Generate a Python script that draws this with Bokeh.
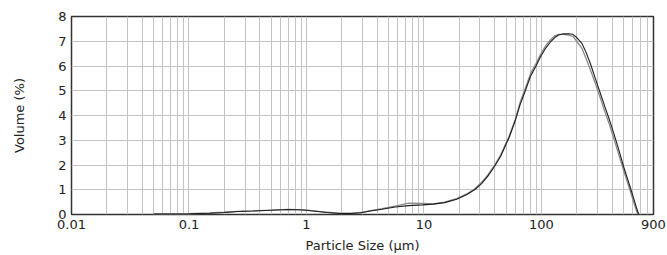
from bokeh.plotting import figure
from bokeh.models import Range1d, FixedTicker, CustomJSTickFormatter
from bokeh.embed import file_html
from bokeh.resources import INLINE

# Particle size (µm)
sizes = [0.05, 0.1, 0.15, 0.2, 0.26, 0.35, 0.5, 0.7, 0.85, 1.0, 1.2, 1.5, 1.9, 2.4,
         2.9, 3.5, 4.4, 5.7, 7.4, 9.7, 12, 15, 19, 23, 27, 31, 35, 40, 45, 53, 60,
         66, 73, 81, 90, 98, 108, 119, 130, 140, 155, 170, 185, 200, 222, 240, 261,
         290, 320, 350, 375, 412, 450, 500, 540, 575, 610, 650, 675]

# Volume (%) — measurement 1 (dark)
vol_a = [0.02, 0.03, 0.05, 0.08, 0.12, 0.14, 0.17, 0.2, 0.19, 0.17, 0.13, 0.08, 0.04, 0.04,
         0.07, 0.14, 0.21, 0.3, 0.36, 0.39, 0.42, 0.48, 0.62, 0.8, 1.0, 1.25, 1.55, 1.95, 2.35,
         3.1, 3.8, 4.45, 5.0, 5.6, 6.0, 6.36, 6.7, 6.96, 7.15, 7.25, 7.3, 7.3, 7.28, 7.15,
         6.9, 6.55, 6.1, 5.45, 4.85, 4.3, 3.9, 3.3, 2.7, 1.95, 1.45, 1.05, 0.65, 0.22, 0.0]

# Volume (%) — measurement 2 (grey)
vol_b = [0.02, 0.03, 0.06, 0.09, 0.13, 0.15, 0.18, 0.21, 0.2, 0.18, 0.14, 0.09, 0.05, 0.05,
         0.08, 0.16, 0.24, 0.34, 0.46, 0.45, 0.43, 0.5, 0.64, 0.82, 1.03, 1.3, 1.6, 2.0, 2.4,
         3.15, 3.85, 4.55, 5.1, 5.7, 6.1, 6.45, 6.8, 7.05, 7.22, 7.28, 7.28, 7.25, 7.2, 7.0,
         6.7, 6.3, 5.85, 5.25, 4.65, 4.1, 3.7, 3.1, 2.5, 1.8, 1.3, 0.9, 0.5, 0.1, 0.0]

x_major = [0.01, 0.1, 1, 10, 100, 900]
x_minor = [m * d for d in (0.01, 0.1, 1, 10, 100) for m in range(2, 10)]
y_ticks = [0, 1, 2, 3, 4, 5, 6, 7, 8]

FONT = "DejaVu Sans"
TXT = "#222222"

p = figure(width=667, height=255, x_axis_type="log",
           x_range=Range1d(0.01, 900), y_range=Range1d(0, 8),
           output_backend="svg", toolbar_location=None,
           min_border_left=71, min_border_right=14, min_border_top=16, min_border_bottom=40,
           background_fill_color="white", border_fill_color="white")

p.outline_line_color = "#333333"
p.outline_line_width = 1.5

p.xaxis.ticker = FixedTicker(ticks=x_major, minor_ticks=x_minor)
p.xaxis.formatter = CustomJSTickFormatter(code="return tick.toString();")
p.yaxis.ticker = FixedTicker(ticks=y_ticks)

for ax in (p.xaxis[0], p.yaxis[0]):
    ax.axis_line_color = None
    ax.major_tick_line_color = None
    ax.minor_tick_line_color = None
    ax.major_tick_out = 0
    ax.major_tick_in = 0
    ax.minor_tick_out = 0
    ax.minor_tick_in = 0
    ax.major_label_text_font = FONT
    ax.major_label_text_font_size = "13px"
    ax.major_label_text_color = TXT
    ax.axis_label_text_font = FONT
    ax.axis_label_text_font_size = "13px"
    ax.axis_label_text_font_style = "normal"
    ax.axis_label_text_color = TXT

p.xaxis.major_label_standoff = 5
p.yaxis.major_label_standoff = 5
p.xaxis.axis_label = "Particle Size (µm)"
p.yaxis.axis_label = "Volume (%)"
p.xaxis.axis_label_standoff = 6
p.yaxis.axis_label_standoff = 28

p.xgrid.grid_line_color = "#c4c4c4"
p.xgrid.minor_grid_line_color = "#c4c4c4"
p.ygrid.grid_line_color = "#c4c4c4"

p.line(sizes, vol_b, line_color="#8a8a8a", line_width=1.3)
p.line(sizes, vol_a, line_color="#1e1e1e", line_width=1.1)

open("out.html", "w").write(file_html(p, INLINE))
